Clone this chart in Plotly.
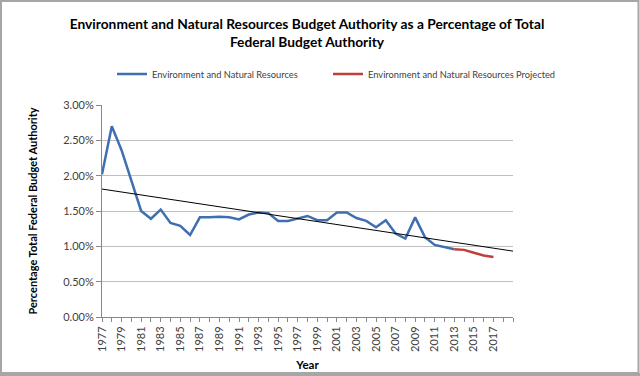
import numpy as np
import plotly.graph_objects as go

years_actual = list(range(1977, 2014))
pct_actual = [2.02, 2.70, 2.36, 1.92, 1.50, 1.39, 1.52, 1.33, 1.29, 1.16, 1.41, 1.41, 1.42, 1.41,
              1.38, 1.45, 1.48, 1.47, 1.36, 1.36, 1.39, 1.43, 1.37, 1.37, 1.48, 1.48, 1.40, 1.36,
              1.27, 1.37, 1.18, 1.11, 1.41, 1.13, 1.02, 0.99, 0.96]
years_proj = list(range(2013, 2018))
pct_proj = [0.96, 0.95, 0.91, 0.87, 0.85]
trend_years = list(range(1977, 2020))
tick_years = list(range(1977, 2018, 2))
y_ticks = [0, 0.5, 1.0, 1.5, 2.0, 2.5, 3.0]

# linear trendline fitted on the actual series, forecast forward
coef = np.polyfit(years_actual, pct_actual, 1)
trend_vals = np.polyval(coef, trend_years)

FONT = "Lato"
BLUE = "#3F6FAF"
RED = "#BE3F3B"

W, H = 640, 376
L, R, T, B = 102, 127, 105, 59
PW, PH = W - L - R, H - T - B


def dx(px):
    return (px - L) / PW


def dy(py):
    return (H - B - py) / PH


fig = go.Figure()
fig.add_trace(go.Scatter(x=years_actual, y=pct_actual, mode="lines",
                         name="Environment and Natural Resources",
                         line=dict(color=BLUE, width=2.5), legend="legend"))
fig.add_trace(go.Scatter(x=years_proj, y=pct_proj, mode="lines",
                         name="Environment and Natural Resources Projected",
                         line=dict(color=RED, width=2.5), legend="legend2"))
fig.add_trace(go.Scatter(x=trend_years, y=trend_vals, mode="lines",
                         showlegend=False, line=dict(color="#000000", width=1)))

leg_common = dict(orientation="h", xref="container", yref="container", xanchor="left",
                  yanchor="middle", y=1 - 74 / H, itemwidth=30,
                  font=dict(family=FONT, size=9.3, color="#404040"))

fig.update_layout(
    width=W, height=H,
    margin=dict(l=L, r=R, t=T, b=B, autoexpand=False),
    paper_bgcolor="white", plot_bgcolor="white",
    font=dict(family=FONT, color="#404040", size=11),
    title=dict(text="<b>Environment and Natural Resources Budget Authority as a Percentage of Total<br>Federal Budget Authority</b>",
               xref="container", yref="container",
               x=307 / W, xanchor="center", y=1 - 29 / H, yanchor="middle",
               font=dict(family=FONT, size=13.75, color="#000000")),
    legend=dict(x=112 / W, **leg_common),
    legend2=dict(x=328 / W, **leg_common),
    xaxis=dict(range=[1977, 2019], tickvals=tick_years, ticktext=[str(y) for y in tick_years],
               tickangle=-90, ticks="outside", ticklen=4, tickcolor="#888888",
               minor=dict(dtick=1, tick0=1977, ticks="outside", ticklen=4, tickcolor="#888888", showgrid=False),
               showline=True, linecolor="#888888", linewidth=1, showgrid=False, zeroline=False,
               tickfont=dict(family=FONT, size=11, color="#404040"),
               title=dict(text="<b>Year</b>", font=dict(family=FONT, size=11.5, color="#000000"), standoff=10)),
    yaxis=dict(range=[0, 3.0], tickvals=y_ticks, ticktext=[f"{v:.2f}%" for v in y_ticks],
               ticks="outside", ticklen=5, tickcolor="#888888",
               showline=True, linecolor="#888888", linewidth=1,
               showgrid=True, gridcolor="#BFBFBF", gridwidth=1.3, zeroline=False,
               tickfont=dict(family=FONT, size=11, color="#404040"),
               title=dict(text="<b>Percentage Total Federal Budget Authority</b>",
                          font=dict(family=FONT, size=11, color="#000000"), standoff=23)),
)
# outer frame of the chart
fig.add_shape(type="rect", xref="x domain", yref="y domain",
              x0=dx(1), x1=dx(638.5), y0=dy(373), y1=dy(1),
              line=dict(color="#A6A6A6", width=2), layer="below")
fig.add_shape(type="rect", xref="x domain", yref="y domain",
              x0=dx(0), x1=dx(640), y0=dy(376), y1=dy(373),
              fillcolor="#A6A6A6", line=dict(width=0), layer="below")

fig.write_html("out.html", config={"displayModeBar": False},
               post_script="document.body.style.margin='0';document.body.style.padding='0';")
